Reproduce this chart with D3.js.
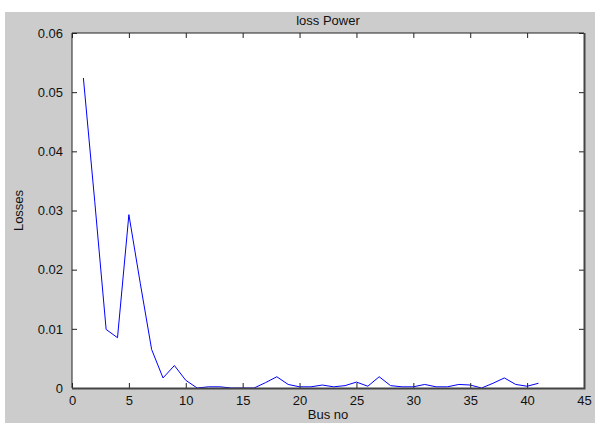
<!DOCTYPE html>
<html>
<head>
<meta charset="utf-8">
<script src="https://cdn.jsdelivr.net/npm/d3@7"></script>
<style>
  body { margin: 0; background: #fff; }
  text { font-family: "Liberation Sans", Arial, sans-serif; fill: #111; }
</style>
</head>
<body>
<div id="chart"></div>
<script>
// bus numbers and losses
const busNo = d3.range(1, 42)
const losses = [
  0.0524, 0.0315, 0.0099, 0.0085, 0.0293, 0.0177, 0.0065, 0.0017, 0.0038, 0.0013,
  0.0000, 0.0002, 0.0002, 0.0000, 0.0000, 0.0000, 0.0009, 0.0019, 0.0006, 0.0002,
  0.0002, 0.0005, 0.0002, 0.0004, 0.0010, 0.0003, 0.0019, 0.0004, 0.0002, 0.0002,
  0.0006, 0.0002, 0.0002, 0.0006, 0.0005, 0.0000, 0.0008, 0.0017, 0.0006, 0.0003,
  0.0008
]
const xTicks = d3.range(0, 46, 5)
const yTicks = [0, 0.01, 0.02, 0.03, 0.04, 0.05, 0.06]

const W = 595, H = 423
const m = {left: 72, right: 584, top: 33, bottom: 388}

let svg = d3.select('#chart').append('svg')
  .attr('width', W).attr('height', H)

// figure background
svg.append('rect')
  .attr('x', 5).attr('y', 12)
  .attr('width', W - 5).attr('height', H - 12)
  .attr('fill', '#cccccc')

svg.append('rect')
  .attr('x', m.left).attr('y', m.top)
  .attr('width', m.right - m.left).attr('height', m.bottom - m.top)
  .attr('fill', '#fff')

let x = d3.scaleLinear().domain([0, 45]).range([m.left, m.right])
let y = d3.scaleLinear().domain([0, 0.06]).range([m.bottom, m.top])

let line = d3.line()
  .x((d, i) => x(busNo[i]))
  .y(d => y(d))

svg.append('path')
  .datum(losses)
  .attr('d', line)
  .attr('fill', 'none')
  .attr('stroke', '#0000ff')
  .attr('stroke-width', 1)

// axes, ticks pointing inward like MATLAB's box
const styleAxis = g => {
  g.select('.domain').remove()
  g.selectAll('line').attr('stroke', '#222')
  g.selectAll('text').attr('font-size', 13).attr('fill', '#111')
}

svg.append('g')
  .attr('transform', `translate(0,${m.bottom})`)
  .call(d3.axisBottom(x).tickValues(xTicks).tickSizeInner(-5).tickSizeOuter(0).tickPadding(8).tickFormat(d3.format('d')))
  .call(styleAxis)

svg.append('g')
  .attr('transform', `translate(0,${m.top})`)
  .call(d3.axisTop(x).tickValues(xTicks).tickSizeInner(-5).tickSizeOuter(0).tickFormat(''))
  .call(styleAxis)

svg.append('g')
  .attr('transform', `translate(${m.left},0)`)
  .call(d3.axisLeft(y).tickValues(yTicks).tickSizeInner(-5).tickSizeOuter(0).tickPadding(9).tickFormat(d => d === 0 ? '0' : d3.format('.2f')(d)))
  .call(styleAxis)

svg.append('g')
  .attr('transform', `translate(${m.right},0)`)
  .call(d3.axisRight(y).tickValues(yTicks).tickSizeInner(-5).tickSizeOuter(0).tickFormat(''))
  .call(styleAxis)

// box
svg.append('path')
  .attr('d', `M${m.left},${m.bottom}V${m.top}H${m.right}`)
  .attr('fill', 'none').attr('stroke', '#222').attr('stroke-width', 1)
svg.append('path')
  .attr('d', `M${m.left},${m.bottom + 0.5}H${m.right + 0.5}V${m.top}`)
  .attr('fill', 'none').attr('stroke', '#444').attr('stroke-width', 2)

svg.append('text')
  .attr('x', (m.left + m.right) / 2).attr('y', 25)
  .attr('text-anchor', 'middle').attr('font-size', 13)
  .text('loss Power')

svg.append('text')
  .attr('x', (m.left + m.right) / 2).attr('y', 419)
  .attr('text-anchor', 'middle').attr('font-size', 13)
  .text('Bus no')

svg.append('text')
  .attr('transform', `translate(23,${(m.top + m.bottom) / 2}) rotate(-90)`)
  .attr('text-anchor', 'middle').attr('font-size', 13)
  .text('Losses')
</script>
</body>
</html>
